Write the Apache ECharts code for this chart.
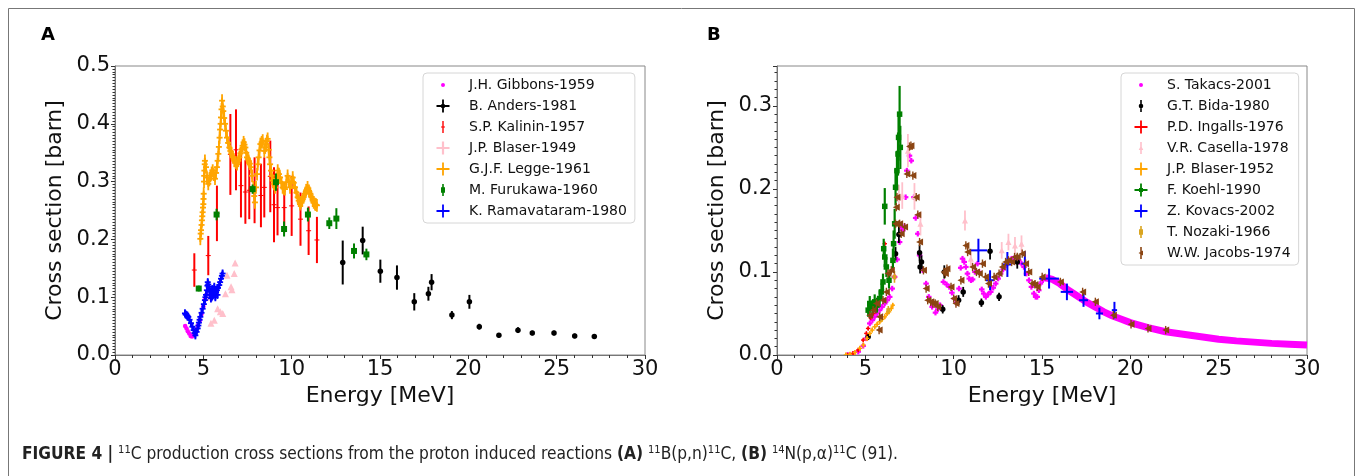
<!DOCTYPE html>
<html>
<head>
<meta charset="utf-8">
<script src="https://cdn.jsdelivr.net/npm/echarts@6/dist/echarts.min.js"></script>
<style>
  html, body { margin: 0; padding: 0; background: #fff; }
  #chart { width: 1357px; height: 476px; }
</style>
</head>
<body>
<div id="chart"></div>
<script>
// ---- panel A : 11B(p,n)11C ----  [E, sigma] or [E, sigma, dSigma] or [E, sigma, dE, dSigma]
var gibbons = [[3.97,0.050],[4.05,0.046],[4.12,0.041],[4.2,0.037],[4.28,0.033],[4.36,0.032],[4.44,0.034],
  [4.52,0.038],[4.6,0.044],[4.7,0.051],[4.8,0.060],[4.9,0.071],[5.0,0.084],[5.1,0.096],[5.18,0.104]];
var anders = [[12.89,0.160,0.038],[14.02,0.198,0.024],[15.02,0.145,0.020],[15.96,0.134,0.021],[16.94,0.092,0.015],
  [17.74,0.106,0.012],[17.92,0.126,0.014],[19.07,0.069,0.007],[20.06,0.092,0.012],[20.62,0.049,0.005],
  [21.73,0.034,0.004],[22.81,0.043,0.005],[23.62,0.038,0.004],[24.85,0.038,0.004],[26.02,0.033,0.004],[27.13,0.032,0.004]];
var kalinin = [[4.49,0.147,0.029],[5.28,0.172,0.034],[5.77,0.245,0.048],[6.53,0.347,0.070],[6.85,0.355,0.070],
  [7.13,0.293,0.055],[7.38,0.282,0.055],[7.6,0.285,0.050],[7.9,0.285,0.057],[8.26,0.276,0.055],[8.45,0.290,0.052],
  [8.79,0.309,0.062],[9.0,0.260,0.065],[9.2,0.255,0.048],[9.58,0.255,0.043],[10.0,0.258,0.052],[10.5,0.235,0.046],
  [10.96,0.215,0.042],[11.43,0.199,0.040]];
var blaser49 = [[5.2,0.100],[5.43,0.055],[5.62,0.060],[5.81,0.080],[5.96,0.075],[6.1,0.072],[6.25,0.106],
  [6.34,0.138],[6.57,0.118],[6.62,0.113],[6.75,0.141],[6.8,0.159]];
var legge = [[4.83,0.201],[4.85,0.210],[4.87,0.216],[4.9,0.225],[4.92,0.233],[4.94,0.240],[4.96,0.247],[4.98,0.255],
  [5.0,0.261],[5.01,0.270],[5.02,0.279],[5.04,0.300],[5.05,0.310],[5.06,0.319],[5.08,0.330],[5.09,0.336],
  [5.15,0.325],[5.21,0.307],[5.28,0.296],[5.34,0.303],[5.4,0.310],[5.47,0.315],[5.53,0.319],[5.6,0.312],[5.66,0.305],
  [5.72,0.315],[5.77,0.325],[5.81,0.336],[5.85,0.348],[5.88,0.360],[5.92,0.376],[5.95,0.390],[5.98,0.400],
  [6.0,0.411],[6.03,0.425],[6.06,0.440],[6.1,0.430],[6.13,0.422],[6.18,0.410],[6.23,0.400],[6.28,0.388],[6.34,0.376],
  [6.4,0.367],[6.47,0.359],[6.53,0.353],[6.6,0.348],[6.68,0.342],[6.75,0.336],[6.83,0.333],[6.91,0.330],[6.98,0.336],
  [7.04,0.342],[7.1,0.349],[7.17,0.356],[7.22,0.362],[7.28,0.368],[7.33,0.364],[7.38,0.359],[7.43,0.350],[7.47,0.342],
  [7.52,0.339],[7.57,0.336],[7.63,0.331],[7.7,0.325],[7.76,0.310],[7.83,0.290],[7.88,0.275],[7.92,0.264],[7.98,0.290],
  [8.04,0.313],[8.08,0.330],[8.13,0.342],[8.18,0.354],[8.23,0.365],[8.3,0.368],[8.36,0.371],[8.45,0.353],[8.5,0.359],
  [8.55,0.365],[8.6,0.370],[8.64,0.374],[8.7,0.355],[8.74,0.342],[8.78,0.330],[8.83,0.319],[8.87,0.310],
  [8.92,0.302],[8.99,0.296],[9.06,0.290],[9.13,0.305],[9.21,0.319],[9.28,0.313],[9.34,0.307],[9.42,0.298],[9.49,0.290],
  [9.55,0.288],[9.62,0.287],[9.7,0.299],[9.77,0.310],[9.84,0.300],[9.91,0.290],[9.98,0.298],[10.06,0.307],[10.12,0.298],
  [10.19,0.290],[10.27,0.281],[10.34,0.273],[10.4,0.267],[10.47,0.261],[10.53,0.264],[10.6,0.267],[10.68,0.273],
  [10.75,0.279],[10.82,0.285],[10.9,0.290],[10.98,0.284],[11.06,0.279],[11.12,0.273],[11.19,0.267],[11.25,0.264],
  [11.32,0.261],[11.38,0.260],[11.43,0.259]];
var furukawa = [[4.74,0.115,0.005],[5.75,0.243,0.010],[7.79,0.287,0.008],[9.11,0.299,0.015],[9.57,0.218,0.013],
  [10.92,0.243,0.012],[12.13,0.228,0.010],[12.53,0.236,0.018],[13.53,0.180,0.013],[14.23,0.174,0.010]];
var ramavataram = [[3.96,0.072],[4.0,0.070],[4.05,0.069],[4.1,0.068],[4.15,0.066],[4.22,0.061],[4.3,0.055],[4.38,0.049],
  [4.45,0.043],[4.5,0.038],[4.55,0.034],[4.62,0.040],[4.68,0.046],[4.72,0.051],[4.75,0.056],[4.79,0.061],[4.83,0.066],
  [4.9,0.073],[4.96,0.080],[5.03,0.088],[5.09,0.095],[5.12,0.100],[5.15,0.104],[5.2,0.112],[5.23,0.120],[5.25,0.126],
  [5.28,0.122],[5.3,0.118],[5.34,0.112],[5.38,0.104],[5.43,0.098],[5.47,0.100],[5.5,0.102],[5.57,0.106],[5.62,0.118],
  [5.65,0.110],[5.68,0.100],[5.72,0.108],[5.77,0.112],[5.83,0.116],[5.9,0.121],[5.95,0.126],[6.0,0.132],[6.05,0.137],
  [6.09,0.141],[5.4,0.110],[5.5,0.114],[5.6,0.108],[5.8,0.104]];

// ---- panel B : 14N(p,a)11C ----
var takacs = [[4.0,0.0],[4.3,0.001],[4.6,0.004],[4.88,0.011],[5.06,0.020],[5.25,0.038],[5.4,0.042],[5.53,0.046],
  [5.67,0.050],[5.81,0.054],[5.95,0.058],[6.1,0.062],[6.24,0.066],[6.38,0.070],[6.52,0.080],[6.66,0.094],[6.8,0.115],
  [6.94,0.136],[7.03,0.154],[7.12,0.150],[7.22,0.155],[7.28,0.190],[7.35,0.222],[7.5,0.240],[7.6,0.234],[7.75,0.190],
  [7.85,0.165],[7.97,0.146],[8.07,0.120],[8.25,0.102],[8.44,0.086],[8.59,0.070],[8.78,0.058],[8.97,0.051],[9.1,0.055],
  [9.23,0.060],[9.42,0.088],[9.6,0.085],[9.75,0.082],[9.9,0.075],[10.04,0.068],[10.15,0.063],[10.3,0.080],[10.4,0.105],
  [10.5,0.116],[10.6,0.112],[10.69,0.106],[10.78,0.098],[10.88,0.092],[10.98,0.090],[11.07,0.091],[11.2,0.100],
  [11.35,0.110],[11.44,0.100],[11.59,0.079],[11.7,0.074],[11.82,0.070],[11.95,0.073],[12.1,0.076],[12.24,0.081],
  [12.38,0.086],[12.52,0.092],[12.66,0.098],[12.8,0.103],[12.94,0.108],[13.1,0.112],[13.28,0.116],[13.45,0.117],
  [13.6,0.115],[13.69,0.114],[13.84,0.110],[13.98,0.106],[14.12,0.098],[14.26,0.090],[14.4,0.082],[14.54,0.074],
  [14.64,0.070],[14.73,0.070],[14.82,0.078],[14.91,0.086],[15.05,0.090]];
var takacsTail = [[15.2,0.093],[15.6,0.091],[16.0,0.086],[16.5,0.078],[17.0,0.071],[17.5,0.064],[18.0,0.058],
  [18.5,0.052],[19.0,0.047],[19.5,0.043],[20.0,0.039],[21.0,0.033],[22.0,0.028],[23.0,0.025],[24.0,0.022],
  [25.0,0.019],[26.0,0.017],[27.0,0.0155],[28.0,0.014],[29.0,0.013],[30.0,0.012]];
var bida = [[5.16,0.022,0.004],[6.71,0.122,0.008],[6.9,0.145,0.010],[8.07,0.123,0.010],[8.1,0.106,0.008],
  [8.18,0.112,0.008],[9.38,0.055,0.005],[9.47,0.100,0.008],[10.28,0.066,0.006],[10.54,0.076,0.006],
  [11.57,0.063,0.005],[12.06,0.125,0.010],[12.57,0.070,0.005],[13.6,0.112,0.008]];
var ingalls = [[4.0,0.0],[4.3,0.002],[4.6,0.006],[4.88,0.018],[5.06,0.026],[5.16,0.032],[5.3,0.045],[5.45,0.050],[6.1,0.134]];
var casella = [[6.9,0.190,0.015],[7.09,0.192,0.016],[7.41,0.246,0.020],[7.78,0.191,0.016],[8.12,0.158,0.014],
  [10.64,0.162,0.012],[10.97,0.116,0.010],[12.72,0.126,0.010],[13.1,0.136,0.010],[13.47,0.132,0.010],[13.84,0.134,0.010]];
var blaser52 = [[3.9,0.0],[4.13,0.001],[4.41,0.003],[4.69,0.008],[4.89,0.012],[5.1,0.020],[5.25,0.026],[5.39,0.030],
  [5.53,0.034],[5.67,0.037],[5.81,0.040],[5.95,0.043],[6.1,0.046],[6.23,0.050],[6.34,0.052],[6.47,0.056],[6.55,0.060]];
var koehl = [[5.16,0.054,0.008],[5.25,0.062,0.009],[5.4,0.058,0.008],[5.53,0.064,0.009],[5.66,0.060,0.009],
  [5.81,0.068,0.010],[5.91,0.076,0.010],[6.0,0.088,0.010],[6.04,0.128,0.012],[6.1,0.118,0.012],[6.1,0.179,0.022],
  [6.19,0.106,0.012],[6.34,0.090,0.010],[6.56,0.114,0.014],[6.6,0.134,0.016],[6.66,0.158,0.018],[6.71,0.202,0.022],
  [6.79,0.222,0.024],[6.85,0.242,0.026],[6.88,0.262,0.028],[6.94,0.290,0.034],[6.98,0.250,0.026]];
var kovacs = [[11.4,0.126,0.50,0.014],[12.06,0.090,0.23,0.012],[13.04,0.109,0.25,0.015],[14.03,0.110,0.20,0.015],
  [15.4,0.092,0.56,0.012],[16.41,0.076,0.35,0.010],[17.35,0.066,0.25,0.008],[18.25,0.050,0.20,0.007],[19.1,0.054,0.15,0.010]];
var nozaki = [[5.9,0.044,0.004],[6.3,0.054,0.005],[6.65,0.094,0.007]];
var jacobs = [[5.25,0.048],[5.44,0.054],[5.63,0.062],[5.78,0.030],[5.81,0.046],[6.0,0.066],[6.19,0.076],[6.28,0.098],
  [6.47,0.102],[6.71,0.158],[6.75,0.178],[6.79,0.190],[6.94,0.158],[7.03,0.146],[7.22,0.154],[7.35,0.218],[7.5,0.251],
  [7.58,0.252],[7.69,0.216],[7.88,0.190],[7.97,0.169],[8.07,0.136],[8.29,0.102],[8.44,0.080],[8.53,0.066],[8.7,0.064],
  [8.82,0.062],[8.95,0.062],[9.1,0.058],[9.45,0.100],[9.53,0.098],[9.62,0.104],[9.85,0.082],[10.0,0.068],[10.13,0.062],
  [10.41,0.090],[10.69,0.132],[10.79,0.124],[11.07,0.106],[11.29,0.100],[11.45,0.098],[11.63,0.110],[11.8,0.094],
  [11.97,0.086],[12.29,0.094],[12.57,0.098],[12.75,0.106],[12.94,0.112],[13.1,0.114],[13.28,0.112],[13.45,0.118],
  [13.6,0.118],[13.88,0.122],[14.07,0.110],[14.25,0.100],[14.44,0.086],[14.6,0.085],[14.73,0.082],[15.01,0.094],
  [16.04,0.088],[17.3,0.076],[18.02,0.064],[19.04,0.048],[20.04,0.037],[21.0,0.032],[22.0,0.030]];

var FONT = 'DejaVu Sans';
var CAPFONT = "'Liberation Sans Narrow', 'DejaVu Sans Condensed', 'Liberation Sans', sans-serif";

// legend icons, drawn in a 14x14 box (two tiny corner anchors keep the box size)
var ANCHOR = 'M0,0h0.01v0.01h-0.01z M13.99,13.99h0.01v0.01h-0.01z ';
function dot(r) { return 'M' + (7 - r) + ',7a' + r + ',' + r + ' 0 1,1 ' + (2 * r) + ',0a' + r + ',' + r + ' 0 1,1 ' + (-2 * r) + ',0z '; }
var VBAR = 'M6.2,1h1.6v12h-1.6z ';
var CROSS = 'M6.1,0.5h1.8v13h-1.8z M0.5,6.1h13v1.8h-13z ';
var icons = {
  dot: 'path://' + ANCHOR + dot(2),
  crossDot: 'path://' + ANCHOR + CROSS + dot(2.3),
  vbarPlus: 'path://' + ANCHOR + 'M6.3,1h1.4v12h-1.4z M5,6.4h4v1.2h-4z',
  cross: 'path://' + ANCHOR + CROSS,
  crossThick: 'path://' + ANCHOR + 'M5.9,0.5h2.2v13h-2.2z M0.5,5.9h13v2.2h-13z',
  vbarSquare: 'path://' + ANCHOR + VBAR + 'M5,4.3h4v5.4h-4z',
  vbarDot: 'path://' + ANCHOR + VBAR + dot(2.3),
  vbarTri: 'path://' + ANCHOR + VBAR + 'M7,4.5L9.3,9H4.7z',
  vbarTriLeft: 'path://' + ANCHOR + VBAR + 'M4.5,7L9,4.6V9.4z',
  crossSquare: 'path://' + ANCHOR + CROSS + 'M5,5h4v4h-4z'
};

function errSeries(name, data, color, o) {
  var rows = data.map(function (d) {
    if (d.length === 4) return d;
    if (d.length === 3) return [d[0], d[1], o.dx || 0, d[2]];
    return [d[0], d[1], o.dx || 0, o.dy || 0];
  });
  return {
    type: 'custom', name: name, xAxisIndex: o.ax, yAxisIndex: o.ax,
    itemStyle: { color: color }, clip: true, z: 3,
    encode: { x: 0, y: 1 },
    data: rows,
    renderItem: function (params, api) {
      var x = api.value(0), y = api.value(1), dx = api.value(2), dy = api.value(3);
      var c = api.coord([x, y]);
      var kids = [];
      var ew = o.ew || 1.5;
      if (dy > 0) {
        var t = api.coord([x, y + dy]), b = api.coord([x, y - dy]);
        kids.push({ type: 'line', shape: { x1: c[0], y1: t[1], x2: c[0], y2: b[1] }, style: { stroke: color, lineWidth: ew } });
      }
      if (dx > 0) {
        var l = api.coord([x - dx, y]), r = api.coord([x + dx, y]);
        kids.push({ type: 'line', shape: { x1: l[0], y1: c[1], x2: r[0], y2: c[1] }, style: { stroke: color, lineWidth: ew } });
      }
      var s = o.size || 4, h = s / 2;
      if (o.marker === 'circle') {
        kids.push({ type: 'circle', shape: { cx: c[0], cy: c[1], r: h }, style: { fill: color } });
      } else if (o.marker === 'square') {
        kids.push({ type: 'rect', shape: { x: c[0] - h, y: c[1] - h, width: s, height: s }, style: { fill: color } });
      } else if (o.marker === 'tri') {
        kids.push({ type: 'polygon', shape: { points: [[c[0], c[1] - h], [c[0] + h, c[1] + h], [c[0] - h, c[1] + h]] }, style: { fill: color } });
      } else if (o.marker === 'triLeft') {
        kids.push({ type: 'polygon', shape: { points: [[c[0] - h, c[1]], [c[0] + h, c[1] - h], [c[0] + h, c[1] + h]] }, style: { fill: color } });
      } else if (o.marker === 'plus') {
        kids.push({ type: 'line', shape: { x1: c[0] - h, y1: c[1], x2: c[0] + h, y2: c[1] }, style: { stroke: color, lineWidth: o.mw || 1 } });
        kids.push({ type: 'line', shape: { x1: c[0], y1: c[1] - h, x2: c[0], y2: c[1] + h }, style: { stroke: color, lineWidth: o.mw || 1 } });
      }
      return { type: 'group', children: kids };
    }
  };
}

function xAxis(idx) {
  return {
    gridIndex: idx, type: 'value', min: 0, max: 30, interval: 5,
    name: 'Energy [MeV]', nameLocation: 'middle', nameGap: 24,
    nameTextStyle: { fontSize: 22, fontFamily: FONT, color: '#111' },
    axisLine: { show: true, lineStyle: { color: '#777', width: 1 } },
    axisTick: { show: true, length: 4, lineStyle: { color: '#333' } },
    minorTick: { show: true, splitNumber: 5, length: 3, lineStyle: { color: '#333' } },
    splitLine: { show: false },
    axisLabel: { fontSize: 21, fontFamily: FONT, color: '#111', margin: 4 }
  };
}
function yAxis(idx, max, minorSplit) {
  return {
    gridIndex: idx, type: 'value', min: 0, max: max, interval: 0.1,
    name: 'Cross section [barn]', nameLocation: 'middle', nameGap: 49,
    nameTextStyle: { fontSize: 22, fontFamily: FONT, color: '#111' },
    axisLine: { show: true, lineStyle: { color: '#777', width: 1 } },
    axisTick: { show: true, length: 4, lineStyle: { color: '#333' } },
    minorTick: { show: true, splitNumber: minorSplit, length: 2.5, lineStyle: { color: '#333' } },
    splitLine: { show: false },
    axisLabel: {
      fontSize: 21, fontFamily: FONT, color: '#111', margin: 5,
      formatter: function (v) { return Math.abs(v * 10 - Math.round(v * 10)) < 1e-6 ? v.toFixed(1) : ''; }
    }
  };
}
function legend(left, names, iconList) {
  return {
    left: left, top: 73, orient: 'vertical', selectedMode: false,
    padding: [5, 8, 5, 13], itemGap: 7, itemWidth: 14, itemHeight: 14,
    backgroundColor: 'rgba(255,255,255,0.85)', borderColor: '#d6d6d6', borderWidth: 1, borderRadius: 4,
    textStyle: { fontSize: 14, fontFamily: FONT, color: '#111', padding: [0, 0, 0, 14] },
    data: names.map(function (n, i) { return { name: n, icon: iconList[i] }; })
  };
}

var chart = echarts.init(document.getElementById('chart'), null, { renderer: 'canvas' });
chart.setOption({
  backgroundColor: '#fff',
  animation: false,
  title: {
    left: 22, top: 445, padding: 0,
    text: '{b|FIGURE 4 |} {s|11}C production cross sections from the proton induced reactions {b|(A)} {s|11}B(p,n){s|11}C, {b|(B)} {s|14}N(p,\u03b1){s|11}C (91).',
    textStyle: {
      fontSize: 17.2, fontWeight: 'normal', color: '#222', lineHeight: 20, fontFamily: CAPFONT,
      rich: {
        b: { fontSize: 17.2, fontWeight: 'bold', color: '#222', lineHeight: 20, fontFamily: CAPFONT },
        s: { fontSize: 11, color: '#222', verticalAlign: 'top', lineHeight: 20, fontFamily: CAPFONT }
      }
    }
  },
  graphic: [
    { type: 'rect', shape: { x: 8.5, y: 8.5, width: 1346, height: 500 }, style: { fill: 'none', stroke: '#777', lineWidth: 1 }, silent: true },
    { type: 'text', left: 41, top: 26, style: { text: 'A', font: 'bold 18px ' + FONT, fill: '#000' } },
    { type: 'text', left: 707, top: 26, style: { text: 'B', font: 'bold 18px ' + FONT, fill: '#000' } }
  ],
  grid: [
    { left: 115, top: 66, width: 530, height: 289, show: true, borderColor: '#888', borderWidth: 1, outerBoundsMode: 'none' },
    { left: 777, top: 66, width: 530, height: 289, show: true, borderColor: '#888', borderWidth: 1, outerBoundsMode: 'none' }
  ],
  xAxis: [xAxis(0), xAxis(1)],
  yAxis: [yAxis(0, 0.5, 20), yAxis(1, 0.348, 10)],
  legend: [
    legend(423, ['J.H. Gibbons-1959', 'B. Anders-1981', 'S.P. Kalinin-1957', 'J.P. Blaser-1949', 'G.J.F. Legge-1961', 'M. Furukawa-1960', 'K. Ramavataram-1980'],
      [icons.dot, icons.crossDot, icons.vbarPlus, icons.crossThick, icons.cross, icons.vbarSquare, icons.cross]),
    legend(1121, ['S. Takacs-2001', 'G.T. Bida-1980', 'P.D. Ingalls-1976', 'V.R. Casella-1978', 'J.P. Blaser-1952', 'F. Koehl-1990', 'Z. Kovacs-2002', 'T. Nozaki-1966', 'W.W. Jacobs-1974'],
      [icons.dot, icons.vbarDot, icons.cross, icons.vbarTri, icons.cross, icons.crossSquare, icons.cross, icons.vbarSquare, icons.vbarTriLeft])
  ],
  series: [
    errSeries('J.H. Gibbons-1959', gibbons, '#ff00ff', { ax: 0, marker: 'circle', size: 4.5 }),
    errSeries('B. Anders-1981', anders, '#000000', { ax: 0, marker: 'circle', size: 5.5, ew: 2 }),
    errSeries('S.P. Kalinin-1957', kalinin, '#ff0000', { ax: 0, marker: 'plus', size: 5, ew: 2 }),
    errSeries('J.P. Blaser-1949', blaser49, '#ffc0cb', { ax: 0, marker: 'tri', size: 7, dy: 0.003 }),
    errSeries('G.J.F. Legge-1961', legge, '#ffa500', { ax: 0, marker: 'plus', size: 6, mw: 1.8, ew: 1.8, dx: 0.05, dy: 0.011 }),
    errSeries('M. Furukawa-1960', furukawa, '#008000', { ax: 0, marker: 'square', size: 6, ew: 2 }),
    errSeries('K. Ramavataram-1980', ramavataram, '#0000ff', { ax: 0, marker: 'plus', size: 6, mw: 1.8, ew: 1.8, dx: 0.04, dy: 0.007 }),

    { type: 'line', name: 'S. Takacs-2001', xAxisIndex: 1, yAxisIndex: 1, data: takacsTail, showSymbol: false,
      lineStyle: { color: '#ff00ff', width: 7 }, itemStyle: { color: '#ff00ff' }, z: 1 },
    errSeries('S. Takacs-2001', takacs, '#ff00ff', { ax: 1, marker: 'plus', size: 5.5, mw: 2.2 }),
    errSeries('G.T. Bida-1980', bida, '#000000', { ax: 1, marker: 'circle', size: 5.5, ew: 1.8 }),
    errSeries('P.D. Ingalls-1976', ingalls, '#ff0000', { ax: 1, marker: 'plus', size: 4.5, mw: 1.4, ew: 1.4, dx: 0.04, dy: 0.002 }),
    errSeries('V.R. Casella-1978', casella, '#ffc0cb', { ax: 1, marker: 'tri', size: 6, ew: 1.8 }),
    errSeries('J.P. Blaser-1952', blaser52, '#ffa500', { ax: 1, marker: 'plus', size: 4.5, mw: 1.4, ew: 1.4, dx: 0.05, dy: 0.003 }),
    errSeries('F. Koehl-1990', koehl, '#008000', { ax: 1, marker: 'square', size: 5.5, ew: 2.2 }),
    errSeries('Z. Kovacs-2002', kovacs, '#0000ff', { ax: 1, marker: 'none', ew: 2 }),
    errSeries('T. Nozaki-1966', nozaki, '#daa520', { ax: 1, marker: 'square', size: 4, ew: 1.6 }),
    errSeries('W.W. Jacobs-1974', jacobs, '#8b4513', { ax: 1, marker: 'triLeft', size: 7, ew: 1.4, dy: 0.005 })
  ]
});
</script>
</body>
</html>
